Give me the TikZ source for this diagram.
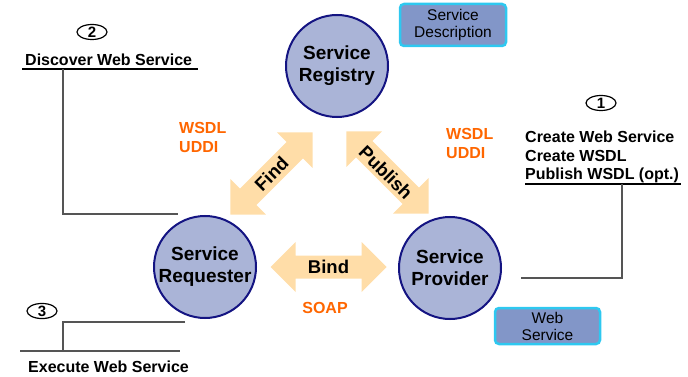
\documentclass[tikz,border=0pt]{standalone}
\usepackage{fontspec}
\setmainfont{Liberation Sans}
\usetikzlibrary{shapes.geometric}
\definecolor{navy}{RGB}{20,20,130}
\definecolor{circfill}{RGB}{170,180,215}
\definecolor{boxfill}{RGB}{130,150,200}
\definecolor{cyanb}{RGB}{46,200,240}
\definecolor{arrowfill}{RGB}{255,221,168}
\definecolor{orangetxt}{RGB}{255,102,0}
\definecolor{linegray}{RGB}{85,85,85}
\begin{document}
\begin{tikzpicture}[x=1pt,y=-1pt,
  circ/.style={circle, draw=navy, line width=2pt, fill=circfill, minimum size=102pt, inner sep=0pt, align=center, font=\fontsize{19}{22}\selectfont\bfseries},
  sbox/.style={rounded corners=4pt, draw=cyanb, line width=2.5pt, fill=boxfill, align=center, inner sep=0pt, font=\fontsize{15.5}{17}\selectfont},
  arrlbl/.style={font=\fontsize{18.5}{20}\selectfont\bfseries, inner sep=0pt},
  orlbl/.style={font=\fontsize{16}{20}\selectfont\bfseries, text=orangetxt, anchor=west, inner sep=0pt},
  anntxt/.style={font=\fontsize{16}{17}\selectfont\bfseries, anchor=west, inner sep=0pt},
  numell/.style={ellipse, draw=black, line width=1.2pt, minimum width=30pt, minimum height=15pt, inner sep=0pt, font=\fontsize{15}{15}\selectfont\bfseries},
  annline/.style={draw=linegray, line width=1.8pt},
  undl/.style={draw=black, line width=1.2pt},
  dblarrow/.pic={\fill[arrowfill] (-58,0) -- (-33,-25) -- (-33,-11.5) -- (33,-11.5) -- (33,-25) -- (58,0) -- (33,25) -- (33,11.5) -- (-33,11.5) -- (-33,25) -- cycle;}
]
\useasboundingbox (0,0) rectangle (688,377);

% main circles
\node[circ] (reg) at (337,66) {Service\\Registry};
\node[circ] (req) at (205,267) {Service\\Requester};
\node[circ] (prov) at (450,268) {Service\\Provider};

% boxes
\node[sbox, minimum width=106pt, minimum height=42pt] (sdesc) at (453,25) {Service\\Description};
\node[sbox, minimum width=105pt, minimum height=36pt] (wsvc) at (547.5,326) {Web\\Service};

% double arrows
\pic[rotate=45] at (271.5,173.5) {dblarrow};
\node[arrlbl, rotate=45] (find) at (271.5,174) {Find};
\pic[rotate=-45] at (387.5,172.5) {dblarrow};
\node[arrlbl, rotate=-45] (pub) at (386,172.5) {Publish};
\pic at (328.5,267) {dblarrow};
\node[arrlbl] (bind) at (328.5,267) {Bind};

% orange labels
\node[orlbl] (w1) at (179,128) {WSDL};
\node[orlbl] (u1) at (179,147.5) {UDDI};
\node[orlbl] (w2) at (446,133.5) {WSDL};
\node[orlbl] (u2) at (446,153) {UDDI};
\node[font=\fontsize{16}{20}\selectfont\bfseries, text=orangetxt, inner sep=0pt] (soap) at (325,308) {SOAP};

% annotation 2
\node[numell] (n2) at (92,32) {2};
\node[anntxt] (disc) at (25,60) {Discover Web Service};
\coordinate (d0) at (22,69);
\coordinate (d1) at (198,69);
\draw[undl] (d0) -- (d1);
\coordinate (d2) at (63,69);
\coordinate (d3) at (178,214);
\draw[annline] (d2) |- (d3);

% annotation 1
\node[numell] (n1) at (601,103) {1};
\node[anntxt] (c1) at (525,137) {Create Web Service};
\node[anntxt] (c2) at (525,156) {Create WSDL};
\node[anntxt] (c3) at (525,175) {Publish WSDL (opt.)};
\coordinate (p0) at (525,184);
\coordinate (p1) at (681,184);
\draw[undl] (p0) -- (p1);
\coordinate (p2) at (622,184);
\coordinate (p3) at (521,278);
\draw[annline] (p2) |- (p3);

% annotation 3
\node[numell] (n3) at (42,311) {3};
\coordinate (e0) at (185,322);
\coordinate (e1) at (63,351);
\draw[annline] (e0) -| (e1);
\coordinate (e2) at (20,351);
\coordinate (e3) at (180,351);
\draw[annline] (e2) -- (e3);
\node[anntxt] (exec) at (28,367) {Execute Web Service};
\end{tikzpicture}
\end{document}
